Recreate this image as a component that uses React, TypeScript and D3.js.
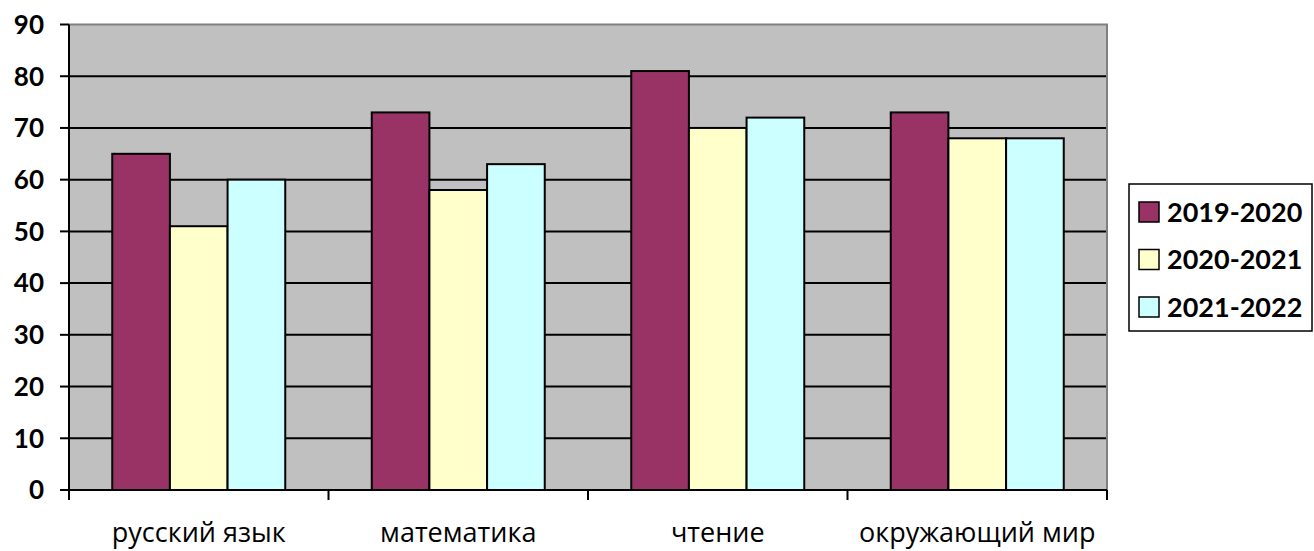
import * as d3 from 'd3';

const categories = ['русский язык', 'математика', 'чтение', 'окружающий мир'];
const seriesNames = ['2019-2020', '2020-2021', '2021-2022'];
const series2019 = [65, 73, 81, 73];
const series2020 = [51, 58, 70, 68];
const series2021 = [60, 63, 72, 68];
const yTicks = [0, 10, 20, 30, 40, 50, 60, 70, 80, 90];
const colors = ['#993366', '#FFFFCC', '#CCFFFF'];

const W = 1314;
const H = 551;
const plot = { left: 69, right: 1107, top: 24.5, bottom: 490 };

export default function App() {
	const seriesValues = [series2019, series2020, series2021];

	const x = d3
		.scaleBand()
		.domain(categories)
		.range([plot.left, plot.right])
		.paddingInner(0)
		.paddingOuter(0);

	// gap width 150% like Excel
	const inner = d3
		.scaleBand()
		.domain(seriesNames)
		.range([0, x.bandwidth()])
		.paddingInner(0)
		.paddingOuter(0.75);

	const y = d3.scaleLinear().domain([0, 90]).range([plot.bottom, plot.top]);

	const font = "Lato, 'Open Sans', sans-serif";

	return (
		<svg
			width={W}
			height={H}
			style={{ position: 'fixed', left: 0, top: 0, background: 'white' }}>
			{/* plot background */}
			<rect
				x={plot.left}
				y={plot.top}
				width={plot.right - plot.left}
				height={plot.bottom - plot.top}
				fill='#C0C0C0'
			/>
			{/* grid lines */}
			{yTicks
				.filter((t) => t > 0 && t < 90)
				.map((t) => (
					<line
						key={t}
						x1={plot.left}
						x2={plot.right}
						y1={y(t)}
						y2={y(t)}
						stroke='black'
						strokeWidth={2}
					/>
				))}
			{/* top / right border */}
			<path
				d={`M${plot.left},${plot.top} H${plot.right} V${plot.bottom}`}
				fill='none'
				stroke='#808080'
				strokeWidth={2}
			/>

			{/* bars */}
			{categories.map((c, i) => (
				<g key={c}>
					{seriesNames.map((s, j) => {
						const v = seriesValues[j][i];
						const bx = (x(c) ?? 0) + (inner(s) ?? 0);
						return (
							<rect
								key={s}
								x={bx}
								y={y(v)}
								width={inner.bandwidth()}
								height={y(0) - y(v)}
								fill={colors[j]}
								stroke='black'
								strokeWidth={2}
							/>
						);
					})}
				</g>
			))}

			{/* y axis */}
			<line
				x1={plot.left}
				x2={plot.left}
				y1={plot.top}
				y2={plot.bottom}
				stroke='black'
				strokeWidth={2}
			/>
			{yTicks.map((t) => (
				<g key={t}>
					<line
						x1={plot.left - 9}
						x2={plot.left}
						y1={y(t)}
						y2={y(t)}
						stroke='black'
						strokeWidth={2}
					/>
					<text
						x={44}
						y={y(t)}
						dy='0.36em'
						textAnchor='end'
						fontFamily={font}
						fontWeight='bold'
						fontSize={26}>
						{t}
					</text>
				</g>
			))}

			{/* x axis */}
			<line
				x1={plot.left - 9}
				x2={plot.right}
				y1={plot.bottom}
				y2={plot.bottom}
				stroke='black'
				strokeWidth={2}
			/>
			{[...categories.map((c) => x(c) ?? 0), plot.right].map((px, i) => (
				<line
					key={i}
					x1={px}
					x2={px}
					y1={plot.bottom}
					y2={plot.bottom + 10}
					stroke='black'
					strokeWidth={2}
				/>
			))}
			{categories.map((c) => (
				<text
					key={c}
					x={(x(c) ?? 0) + x.bandwidth() / 2}
					y={542}
					textAnchor='middle'
					fontFamily="'Open Sans', sans-serif"
					fontSize={27}>
					{c}
				</text>
			))}

			{/* legend */}
			<rect
				x={1129}
				y={184}
				width={183}
				height={147}
				fill='white'
				stroke='black'
				strokeWidth={1.5}
			/>
			{seriesNames.map((s, j) => (
				<g key={s} transform={`translate(1139, ${212 + j * 47.5})`}>
					<rect
						x={0}
						y={-10}
						width={20}
						height={20}
						fill={colors[j]}
						stroke='black'
						strokeWidth={1.5}
					/>
					<text
						x={28}
						y={0}
						dy='0.36em'
						fontFamily={font}
						fontWeight='bold'
						fontSize={27}>
						{s}
					</text>
				</g>
			))}
		</svg>
	);
}
